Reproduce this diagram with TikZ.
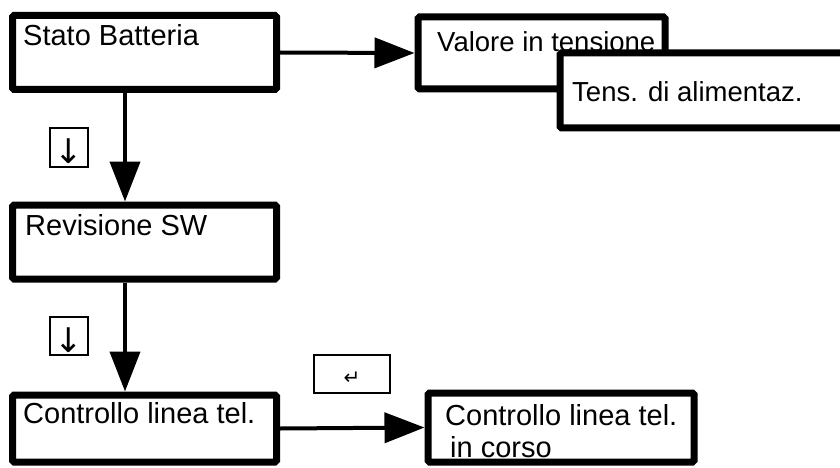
\documentclass[tikz,border=0pt]{standalone}
\usepackage{fontspec}
\setmainfont{Liberation Sans}
\newfontfamily\symfont{DejaVu Sans}
\usetikzlibrary{arrows.meta}
\tikzset{
  bigbox/.style={draw=black, line width=7pt, fill=white, inner sep=0pt, rounded corners=1.5pt},
  keybox/.style={draw=black, line width=1.3pt, fill=white, inner sep=0pt},
  lbl/.style={inner sep=0pt, anchor=base west, font=\fontsize{29pt}{32pt}\selectfont},
  lbls/.style={inner sep=0pt, anchor=base west, font=\fontsize{27.5pt}{30pt}\selectfont},
  keyglyph/.style={inner sep=0pt, font=\symfont\fontsize{34pt}{34pt}\selectfont},
  conn/.style={line width=4pt, -{Triangle[length=40pt,width=30pt]}},
}
\begin{document}
\begin{tikzpicture}[x=1pt,y=-1pt]
\useasboundingbox (0,0) rectangle (840,468);
% left column
\node[bigbox, minimum width=264pt, minimum height=74pt] (s1) at (144.5,52.5) {};
\node[lbl] (s1t) at (23,46) {Stato Batteria};
\node[bigbox, minimum width=264pt, minimum height=74pt] (s2) at (144.5,242) {};
\node[lbl] (s2t) at (25,235) {Revisione SW};
\node[bigbox, minimum width=264pt, minimum height=67pt] (s3) at (144.5,428.5) {};
\node[lbl] (s3t) at (23,423) {Controllo linea tel.};
% right column
\node[bigbox, minimum width=247pt, minimum height=72pt] (v) at (541.5,53) {};
\node[lbls] (vt) at (437,52) {Valore in tensione};
\node[bigbox, minimum width=320pt, minimum height=75pt] (t) at (720,90.5) {};
\node[lbls] (tt) at (572,102) {Tens. di alimentaz.};
\node[bigbox, minimum width=266pt, minimum height=69pt] (c) at (561,427.5) {};
\node[lbl] (ct1) at (445,425) {Controllo linea tel.};
\node[lbl] (ct2) at (450,457) {in corso};
% key boxes
\node[keybox, minimum width=38pt, minimum height=39pt] (k1) at (69,147.5) {};
\node[keyglyph] (k1t) at (69,151) {↓};
\node[keybox, minimum width=38pt, minimum height=38pt] (k2) at (69,336) {};
\node[keyglyph] (k2t) at (69,340) {↓};
\node[keybox, minimum width=76pt, minimum height=38pt] (k3) at (352,374) {};
\node[inner sep=0pt, font=\symfont\fontsize{20pt}{20pt}\selectfont] (k3t) at (352,378) {↵};
% connectors
\coordinate (vx) at (125,0);
\draw[conn] (s1.south -| vx) -- (s2.north -| vx);
\draw[conn] (s2.south -| vx) -- (s3.north -| vx);
\draw[conn] (s1.east) -- (v.west);
\draw[conn] (s3.east) -- (c.west);
\end{tikzpicture}
\end{document}
